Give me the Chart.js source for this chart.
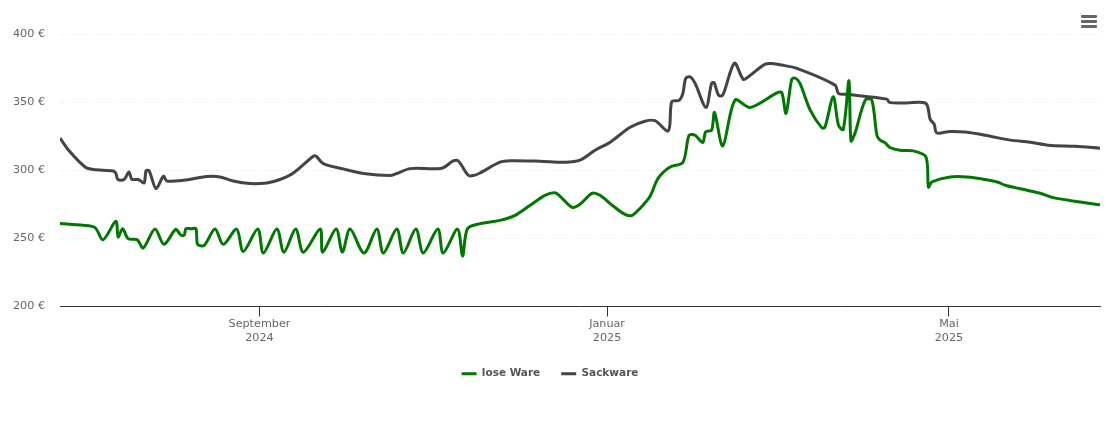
<!DOCTYPE html>
<html>
<head>
<meta charset="utf-8">
<title>Preisverlauf</title>
<script src="https://cdn.jsdelivr.net/npm/chart.js@4/dist/chart.umd.min.js"></script>
<style>
  body { margin: 0; background: #fff; }
  #wrap { position: relative; width: 1110px; height: 423px; }
  #menu { position: absolute; left: 1081px; top: 15px; width: 16px; }
  #menu div { height: 3px; background: #666; margin-bottom: 2px; border-radius: 1px; }
</style>
</head>
<body>
<div id="wrap">
  <canvas id="chart" width="1110" height="423"></canvas>
  <div id="menu"><div></div><div></div><div></div></div>
</div>
<script>
// days since 23 June 2024, prices in euro
const loseDays = [0, 8.1, 12.3, 15.1, 19.6, 20.4, 22, 23.9, 27.1, 29.2, 33.3, 36.5, 40.6, 42.4, 43.6, 44.2, 46, 47.7, 48.3, 50.6, 54.4, 57.3, 62, 64.3, 69.4, 71.4, 76.1, 78.6, 82.7, 85.4, 91.3, 92.2, 96.9, 99.1, 101.8, 106.7, 111.2, 113.5, 118.2, 120.5, 124.9, 127.5, 132.6, 134.5, 139.5, 141.3, 143, 147.4, 154.4, 159.7, 165, 170.2, 173.7, 175.5, 179.7, 182.5, 186.7, 189.5, 193.8, 198.3, 200.8, 203.6, 207.1, 209.9, 214.1, 218.6, 220.8, 222.9, 225.6, 226.6, 228.7, 229.7, 232.6, 236.9, 242.2, 251.6, 253.3, 254.8, 256.8, 258, 259.7, 263.3, 267.4, 268.5, 271.4, 273.2, 274.9, 276.9, 277.6, 279, 282.6, 284.9, 286.7, 287.8, 289.6, 291.3, 294.8, 299.5, 303.9, 304.8, 306, 312.4, 319.4, 324.7, 329.2, 331.7, 337, 344, 348.2, 356.3, 365];
const losePrices = [261, 259.6, 257.9, 249, 262.5, 251, 257.1, 249.8, 249, 242.9, 256.8, 245.6, 256.6, 252.4, 252.4, 257.1, 257.1, 257.1, 245.6, 244.9, 256.8, 245.6, 256.8, 240.4, 256.8, 239.2, 256.8, 239.9, 256.8, 239.9, 256.8, 239.9, 256.8, 239.9, 256.8, 239.2, 256.8, 239.2, 256.8, 239.2, 256.8, 239.2, 256.8, 239.2, 256.8, 237, 257.1, 260.8, 263.2, 266.9, 274.3, 281.6, 283.5, 280.9, 272.8, 275, 283.1, 281.6, 274.3, 267.6, 266.9, 272.1, 280.9, 294.1, 302.4, 305.7, 325.7, 325.7, 320.4, 328.2, 329.4, 342.4, 317.9, 351.5, 346.1, 356.8, 357.1, 341.7, 366.7, 367.7, 363.8, 344.1, 331.1, 331.8, 353.9, 333.1, 329.9, 365.7, 321.5, 327.2, 351.5, 351.5, 325.7, 322.1, 320.1, 316.7, 314.7, 314.2, 309.8, 287.7, 291.4, 295.1, 294.9, 293.2, 291.2, 289, 286.4, 283.1, 280.1, 277.2, 274.6];

const sackDays = [0, 3.5, 8.8, 11.7, 18.7, 19.6, 20.3, 22.5, 24.2, 25.2, 27.5, 29.5, 30.2, 31.3, 33.7, 36.3, 37.5, 43.3, 51.5, 56.2, 60.8, 66.7, 72.6, 77.2, 81.9, 88.9, 89.9, 92.4, 99.4, 106.5, 115.8, 118.2, 122.9, 134, 138, 139.8, 143.3, 145.1, 147.4, 154.4, 158, 168.5, 177.3, 182.5, 187.8, 193.1, 200.1, 205.3, 208.8, 213.5, 214.7, 217.4, 218.6, 219.6, 221.1, 222.9, 226.7, 228.7, 229.6, 231.1, 232.6, 236.7, 239.8, 241.6, 247.5, 250.4, 252.7, 258.6, 272, 273.2, 276.1, 290.2, 291.1, 297, 303.9, 305.4, 306.8, 307.7, 312.4, 317.7, 324.7, 333.5, 340.5, 346.8, 356.3, 365];
const sackPrices = [323.5, 313.5, 302.4, 300.5, 299.5, 297.8, 293.2, 293.2, 298.8, 293.4, 293.2, 290.7, 299.5, 299.5, 286.5, 295.6, 292.1, 292.6, 295.4, 295.1, 292.1, 290.2, 290.7, 293.2, 298, 310.3, 310.3, 304.9, 301, 297.6, 296.1, 297.6, 301.2, 301.5, 306.8, 306.8, 296.3, 296.1, 298, 305.9, 307, 306.6, 305.9, 307.4, 314.7, 320.6, 331.6, 336, 336.4, 328.9, 350.2, 351.5, 356.4, 367.4, 368.6, 363.8, 346.1, 363.8, 364.2, 355.1, 355.1, 378.5, 366.7, 368.6, 377.9, 378.2, 377.4, 374.8, 362.5, 356.4, 355.7, 352.2, 349.8, 349.4, 349, 337.3, 333.8, 327.4, 328.5, 328, 325.7, 322.1, 320.6, 318.4, 317.6, 316.2];

// x axis ticks
const monthDays = [70, 192, 312];
const monthLabels = [['September', '2024'], ['Januar', '2025'], ['Mai', '2025']];

const FONT = '"DejaVu Sans", sans-serif';

function toPoints(days, prices) {
    return days.map((d, i) => ({ x: d, y: prices[i] }));
}

function lineSet(label, days, prices, color) {
    return {
        label: label,
        data: toPoints(days, prices),
        borderColor: color,
        backgroundColor: color,
        borderWidth: 3,
        pointRadius: 0,
        tension: 0.3
    };
}

new Chart(document.getElementById('chart'), {
    type: 'line',
    data: {
        datasets: [
            lineSet('lose Ware', loseDays, losePrices, '#007700'),
            lineSet('Sackware', sackDays, sackPrices, '#434348')
        ]
    },
    options: {
        responsive: false,
        animation: false,
        layout: { padding: { top: 34, right: 10, bottom: 34, left: 0 } },
        plugins: {
            tooltip: { enabled: false },
            legend: {
                position: 'bottom',
                labels: {
                    usePointStyle: true,
                    pointStyle: 'line',
                    pointStyleWidth: 15,
                    boxHeight: 11,
                    padding: 21,
                    color: '#555',
                    font: { family: FONT, size: 10.5, weight: 'bold' }
                }
            }
        },
        scales: {
            x: {
                type: 'linear',
                min: 0,
                max: 365,
                afterBuildTicks: (axis) => { axis.ticks = monthDays.map(v => ({ value: v })); },
                afterFit: (axis) => { axis.height = 41; },
                border: { color: '#333' },
                grid: { drawOnChartArea: false, color: '#333', tickLength: 10 },
                ticks: {
                    autoSkip: false,
                    maxRotation: 0,
                    padding: 0,
                    color: '#666',
                    font: { family: FONT, size: 11.2, lineHeight: 1.3 },
                    callback: (value) => monthLabels[monthDays.indexOf(value)]
                }
            },
            y: {
                min: 200,
                max: 400,
                afterFit: (axis) => { axis.width = 60; },
                border: { display: false, dash: [1, 2] },
                grid: { color: '#e6e6e6', drawTicks: false },
                ticks: {
                    stepSize: 50,
                    padding: 15,
                    color: '#666',
                    font: { family: FONT, size: 11.2 },
                    callback: (value) => value + ' €'
                }
            }
        }
    }
});
</script>
</body>
</html>
